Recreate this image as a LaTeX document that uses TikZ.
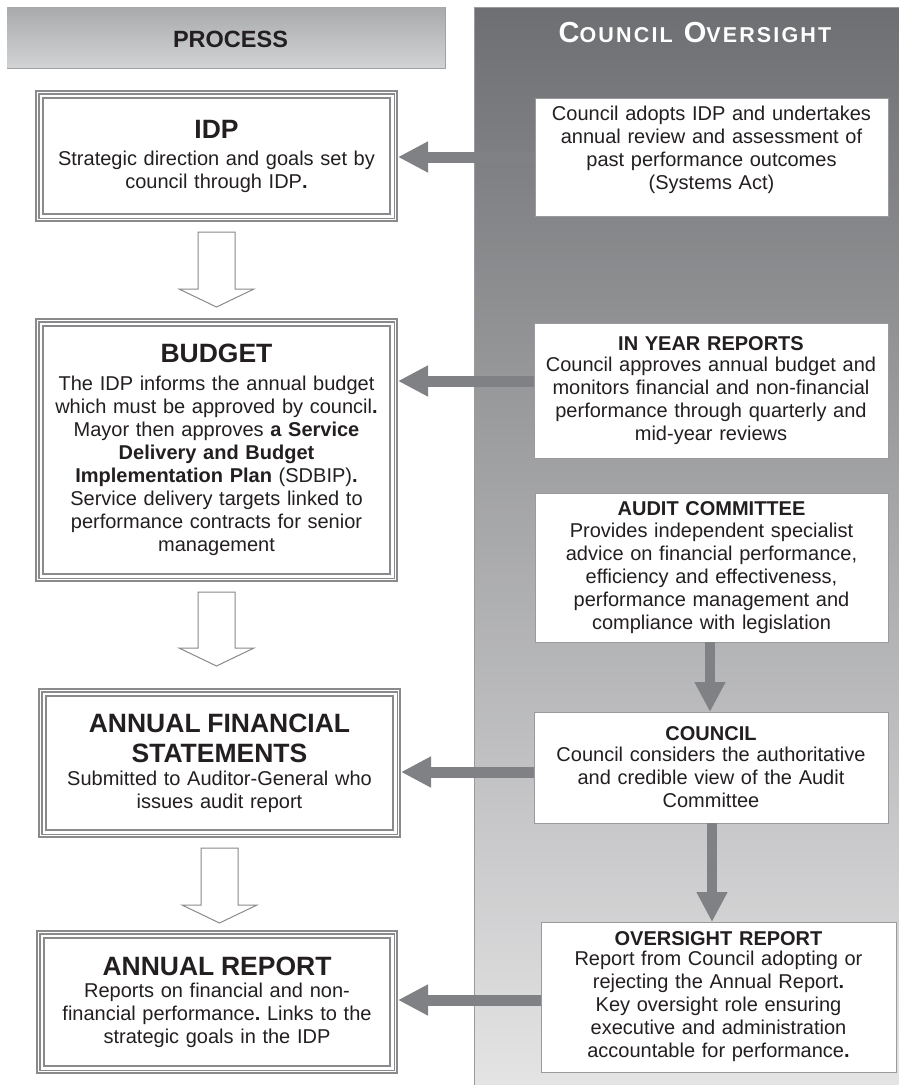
\documentclass[tikz,border=0pt]{standalone}
\usepackage{fontspec}
\setmainfont{Liberation Sans}
\newfontfamily\hdrfont[LetterSpace=10]{Liberation Sans}
\usetikzlibrary{arrows.meta,calc}
\frenchspacing

\definecolor{txt}{HTML}{231F20}
\definecolor{frame}{HTML}{8A8A8C}
\definecolor{solidgray}{HTML}{808184}
\definecolor{boxline}{HTML}{9A9A9C}
\definecolor{paneltop}{HTML}{6E6F72}
\definecolor{panelmid}{HTML}{B2B3B5}
\definecolor{panelbot}{HTML}{E4E4E5}
\definecolor{hdrtop}{HTML}{A9AAAC}
\definecolor{hdrbot}{HTML}{D2D3D5}

\newcommand\titlefont{\fontsize{26.5}{30}\selectfont\bfseries}
\newcommand\triframe[1]{%
  \draw[frame, line width=2.2pt] ([shift={(1.1pt,-1.1pt)}]#1.north west) rectangle ([shift={(-1.1pt,1.1pt)}]#1.south east);
  \draw[frame, line width=1.2pt] ([shift={(3.9pt,-3.9pt)}]#1.north west) rectangle ([shift={(-3.9pt,3.9pt)}]#1.south east);
  \draw[frame, line width=1.8pt] ([shift={(8.2pt,-8.2pt)}]#1.north west) rectangle ([shift={(-8.2pt,8.2pt)}]#1.south east);
}
\newcommand\blockdown[3]{%
  \path[hollow] let \p1=([yshift=-10pt]#1.south), \p2=([yshift=#3]#2.north) in
    (\x1-18.5pt,\y1) -- (\x1+18.5pt,\y1) -- (\x1+18.5pt,\y2+18pt) -- (\x1+37.5pt,\y2+18pt)
    -- (\x1,\y2) -- (\x1-37.5pt,\y2+18pt) -- (\x1-18.5pt,\y2+18pt) -- cycle;
}

\begin{document}
\begin{tikzpicture}[x=1pt,y=-1pt,
  every node/.style={text=txt},
  lbox/.style={rectangle, fill=white, inner sep=0pt, outer sep=0pt, align=center,
    text width=343pt, font=\fontsize{20}{23}\selectfont},
  rbox/.style={rectangle, fill=white, draw=boxline, line width=1pt, inner sep=0pt, outer sep=0pt,
    align=center, text width=345pt, font=\fontsize{20}{23}\selectfont},
  hollow/.style={draw=frame, line width=1pt, fill=white, line join=miter},
  solidh/.style={draw=solidgray, line width=11pt, -{Triangle[length=30pt,width=29pt]}},
  solidv/.style={draw=solidgray, line width=10pt, -{Triangle[length=30pt,width=29pt]}},
]
\useasboundingbox (0,0) rectangle (899,1085);
\fill[white] (0,0) rectangle (899,1085);

% right panel
\shade[top color=paneltop, middle color=panelmid, bottom color=panelbot] (474,7) rectangle (899,1085);
\draw[boxline, line width=0.8pt] (474,1085) -- (474,7) -- (899,7);
\node (counhdr) [text=white, font={\hdrfont\bfseries}] at (695,33)
  {{\fontsize{29}{30}\selectfont C}{\fontsize{21.5}{30}\selectfont OUNCIL}\hspace{11pt}{\fontsize{29}{30}\selectfont O}{\fontsize{21.5}{30}\selectfont VERSIGHT}};

% left header
\shade[top color=hdrtop, bottom color=hdrbot] (7,7) rectangle (445,68);
\draw[frame!80, line width=0.8pt] (7,68) -- (445,68) -- (445,7);
\node (prochdr) [font=\fontsize{23.5}{25}\selectfont\bfseries] at (230.5,39) {PROCESS};

% left boxes
\node (idp) [lbox, minimum width=363pt, minimum height=132pt] at (216.5,156)
  {{\titlefont IDP}\\[4pt]
   Strategic direction and goals set by\\
   council through IDP\textbf{.}};
\node (budget) [lbox, minimum width=363pt, minimum height=264pt] at (216.5,450)
  {{\titlefont BUDGET}\\[5.5pt]
   The IDP informs the annual budget\\
   which must be approved by council\textbf{.}\\
   Mayor then approves \textbf{a Service}\\
   \textbf{Delivery and Budget}\\
   \textbf{Implementation Plan} (SDBIP)\textbf{.}\\
   Service delivery targets linked to\\
   performance contracts for senior\\
   management};
\node (afs) [lbox, minimum width=363pt, minimum height=150pt] at (219.5,763)
  {{\titlefont ANNUAL FINANCIAL}\\[7pt]
   {\titlefont STATEMENTS}\\
   Submitted to Auditor-General who\\
   issues audit report};
\node (ar) [lbox, minimum width=362pt, minimum height=144pt] at (217,1002)
  {{\titlefont ANNUAL REPORT}\\[-1pt]
   Reports on financial and non-\\
   financial performance\textbf{.} Links to the\\
   strategic goals in the IDP};
\triframe{idp}
\triframe{budget}
\triframe{afs}
\triframe{ar}

% right boxes
\node (cadopt) [rbox, minimum width=353pt, minimum height=118pt] at (711.5,157)
  {Council adopts IDP and undertakes\\
   annual review and assessment of\\
   past performance outcomes\\
   (Systems Act)\\[-4pt]\mbox{}};
\node (inyear) [rbox, minimum width=354pt, minimum height=135pt] at (711,390.5)
  {\textbf{IN YEAR REPORTS}\\[-2pt]
   Council approves annual budget and\\
   monitors financial and non-financial\\
   performance through quarterly and\\
   mid-year reviews};
\node (audit) [rbox, minimum width=353pt, minimum height=149pt] at (711.5,567.5)
  {\textbf{AUDIT COMMITTEE}\\[-1pt]
   Provides independent specialist\\
   advice on financial performance,\\
   efficiency and effectiveness,\\
   performance management and\\
   compliance with legislation};
\node (council) [rbox, minimum width=354pt, minimum height=111pt] at (711,767.5)
  {\textbf{COUNCIL}\\[-2pt]
   Council considers the authoritative\\
   and credible view of the Audit\\
   Committee};
\node (oversight) [rbox, minimum width=355pt, minimum height=150pt] at (718.5,997)
  {\textbf{OVERSIGHT REPORT}\\[-3pt]
   Report from Council adopting or\\
   rejecting the Annual Report\textbf{.}\\
   Key oversight role ensuring\\
   executive and administration\\
   accountable for performance\textbf{.}};

% hollow process arrows
\blockdown{idp}{budget}{11pt}
\blockdown{budget}{afs}{22pt}
\blockdown{afs}{ar}{7pt}

% solid arrows
\coordinate (lvB) at (0,381);
\coordinate (lvC) at (0,772);
\coordinate (lvO) at (0,1000);
\coordinate (colA) at (710,0);
\coordinate (colC) at (712,0);
\draw[solidh] (cadopt.west) -- (cadopt.west -| idp.east);
\draw[solidh] (inyear.west |- lvB) -- (budget.east |- lvB);
\draw[solidh] (council.west |- lvC) -- (afs.east |- lvC);
\draw[solidh] (oversight.west |- lvO) -- (ar.east |- lvO);
\draw[solidv] (audit.south -| colA) -- (council.north -| colA);
\draw[solidv] (council.south -| colC) -- (oversight.north -| colC);
\end{tikzpicture}
\end{document}
